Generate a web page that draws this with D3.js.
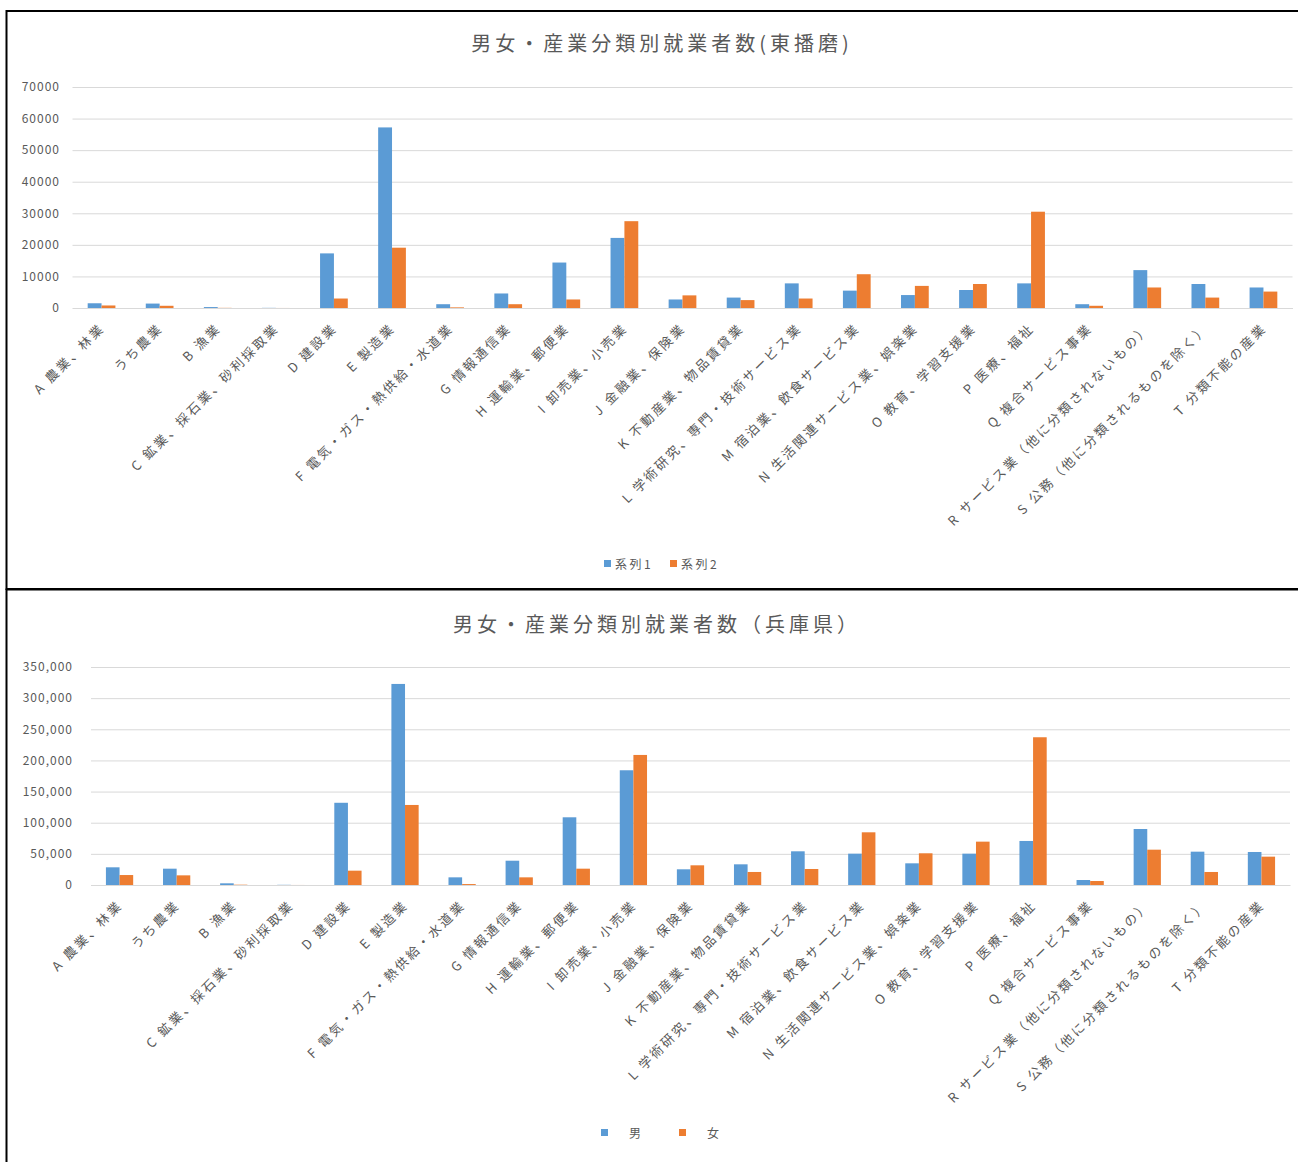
<!DOCTYPE html>
<html>
<head>
<meta charset="utf-8">
<script src="https://cdn.jsdelivr.net/npm/d3@7"></script>
<style>
  body { margin: 0; background: #fff; }
  svg { display: block; }
  text { font-family: "Noto Sans CJK JP", "Noto Sans", sans-serif; fill: #595959; }
</style>
</head>
<body>
<svg id="chart" width="1298" height="1162"></svg>
<script>
// industry categories (shared by both charts)
const categories = [
  'A 農業、林業', 'うち農業', 'B 漁業', 'C 鉱業、採石業、砂利採取業', 'D 建設業',
  'E 製造業', 'F 電気・ガス・熱供給・水道業', 'G 情報通信業', 'H 運輸業、郵便業',
  'I 卸売業、小売業', 'J 金融業、保険業', 'K 不動産業、物品賃貸業',
  'L 学術研究、専門・技術サービス業', 'M 宿泊業、飲食サービス業',
  'N 生活関連サービス業、娯楽業', 'O 教育、学習支援業', 'P 医療、福祉',
  'Q 複合サービス事業', 'R サービス業（他に分類されないもの）',
  'S 公務（他に分類されるものを除く）', 'T 分類不能の産業'
];

// 東播磨 (series 1 / series 2)
const higashiSeries1 = [1500, 1400, 300, 50, 17300, 57200, 1200, 4600, 14400, 22200, 2700,
  3300, 7800, 5500, 4100, 5700, 7800, 1200, 12000, 7600, 6500];
const higashiSeries2 = [800, 700, 50, 10, 3000, 19100, 200, 1200, 2700, 27500, 4000,
  2500, 3000, 10700, 7000, 7600, 30500, 700, 6500, 3300, 5200];
const higashiTicks = [0, 10000, 20000, 30000, 40000, 50000, 60000, 70000];

// 兵庫県 (男 / 女)
const hyogoMale = [28400, 26200, 2700, 300, 132000, 322800, 12300, 39000, 108700, 184200, 25200,
  33200, 54100, 50300, 34800, 50300, 70700, 8000, 89900, 53500, 53000];
const hyogoFemale = [16000, 15500, 500, 50, 23000, 128500, 1500, 12300, 26200, 208800, 31600,
  20900, 25700, 84600, 50900, 69600, 237200, 6400, 56700, 20900, 45500];
const hyogoTicks = [0, 50000, 100000, 150000, 200000, 250000, 300000, 350000];

const colors = ['#5B9BD5', '#ED7D31'];
const svg = d3.select('#chart');

function drawChart(cfg) {
    const g = svg.append('g');

    // chart frame
    g.append('rect')
        .attr('x', 6.5).attr('y', cfg.top)
        .attr('width', 1300).attr('height', cfg.height)
        .attr('fill', 'none')
        .attr('stroke', '#000')
        .attr('stroke-width', 2);

    g.append('text')
        .attr('x', cfg.titleX).attr('y', cfg.titleY)
        .attr('text-anchor', 'middle')
        .attr('font-size', 20)
        .attr('letter-spacing', 4)
        .text(cfg.title);

    const x = d3.scaleBand()
        .domain(categories)
        .range([cfg.left, cfg.right]);
    const y = d3.scaleLinear()
        .domain([0, cfg.ticks[cfg.ticks.length - 1]])
        .range([cfg.bottom, cfg.plotTop]);

    // gridlines + value labels
    const yAxis = d3.axisLeft(y)
        .tickValues(cfg.ticks)
        .tickSize(-(cfg.right - cfg.left))
        .tickPadding(cfg.left - cfg.labelRight)
        .tickFormat(cfg.format);
    const ya = g.append('g')
        .attr('transform', `translate(${cfg.left},0)`)
        .call(yAxis);
    ya.select('.domain').remove();
    ya.selectAll('.tick line').attr('stroke', '#D9D9D9');
    ya.selectAll('.tick text')
        .attr('font-size', 12)
        .attr('letter-spacing', 1)
        .attr('fill', '#595959')
        .style('font-family', '"Noto Sans CJK JP", sans-serif');

    // bars: gap width ~219%
    const inner = d3.scaleBand()
        .domain([0, 1])
        .range([0, x.bandwidth() * 2 / 4.19]);
    const offset = (x.bandwidth() - inner.range()[1]) / 2;

    cfg.series.forEach((vals, si) => {
        g.append('g')
            .selectAll('rect')
            .data(vals)
            .enter()
            .append('rect')
            .attr('x', (d, i) => x(categories[i]) + offset + inner(si))
            .attr('y', d => y(d))
            .attr('width', inner.bandwidth())
            .attr('height', d => cfg.bottom - y(d))
            .attr('fill', colors[si]);
    });

    // category labels rotated -45
    const xa = g.append('g')
        .attr('transform', `translate(0,${cfg.bottom})`)
        .call(d3.axisBottom(x).tickSize(0).tickPadding(0));
    xa.select('.domain').attr('stroke', '#D9D9D9');
    xa.selectAll('.tick text')
        .attr('font-size', 13)
        .attr('letter-spacing', 2.5)
        .attr('fill', '#707070')
        .style('font-family', '"Noto Sans CJK JP", sans-serif')
        .attr('text-anchor', 'end')
        .attr('dy', 0)
        .attr('transform', 'translate(4,21) rotate(-45)');

    // legend
    const lg = g.append('g');
    cfg.legend.forEach((name, i) => {
        const item = cfg.legendX[i];
        lg.append('rect')
            .attr('x', item[0]).attr('y', cfg.legendY - 4)
            .attr('width', 7).attr('height', 7)
            .attr('fill', colors[i]);
        lg.append('text')
            .attr('x', item[1]).attr('y', cfg.legendY + 5)
            .attr('font-size', 12)
            .attr('letter-spacing', 2.5)
            .text(name);
    });
}

drawChart({
    top: 11, height: 578,
    title: '男女・産業分類別就業者数(東播磨)', titleX: 662, titleY: 51,
    left: 72.5, right: 1292.5, plotTop: 87, bottom: 308, labelRight: 60,
    ticks: higashiTicks, format: d3.format('d'),
    series: [higashiSeries1, higashiSeries2],
    legend: ['系列1', '系列2'], legendX: [[604, 615], [670, 681]], legendY: 564
});

drawChart({
    top: 589.5, height: 600,
    title: '男女・産業分類別就業者数（兵庫県）', titleX: 657, titleY: 632,
    left: 91, right: 1290, plotTop: 667, bottom: 885, labelRight: 73,
    ticks: hyogoTicks, format: d3.format(','),
    series: [hyogoMale, hyogoFemale],
    legend: ['男', '女'], legendX: [[601, 629], [679, 707]], legendY: 1133
});
</script>
</body>
</html>
